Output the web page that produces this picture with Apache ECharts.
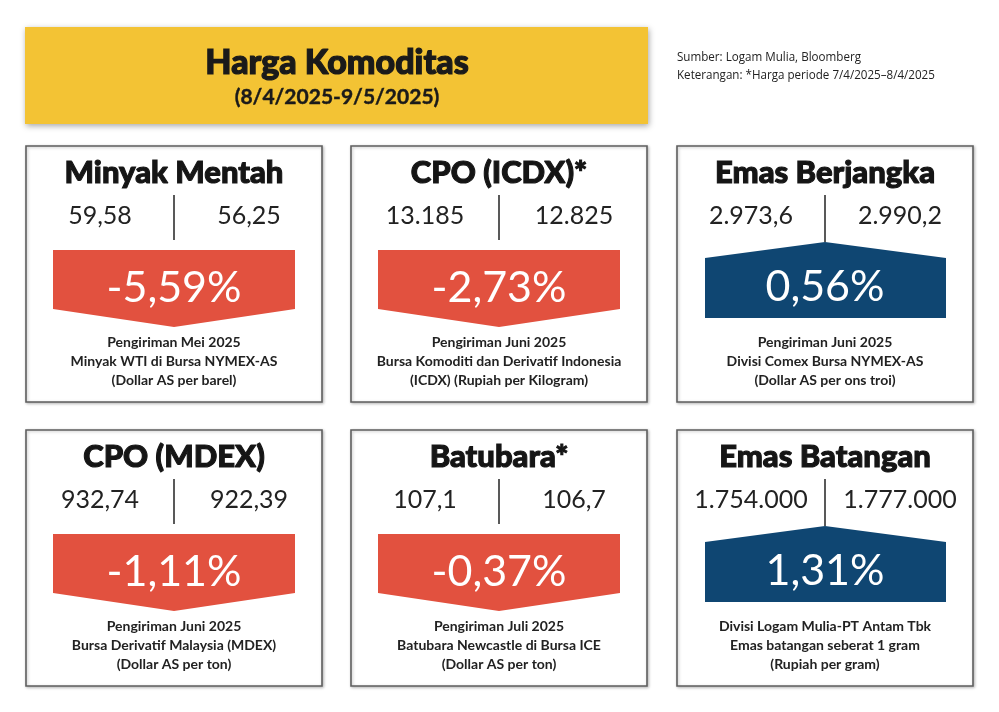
<!DOCTYPE html>
<html>
<head>
<meta charset="utf-8">
<script src="https://cdn.jsdelivr.net/npm/echarts@6/dist/echarts.min.js"></script>
<style>
  html, body { margin: 0; padding: 0; background: #fff; }
  #main { width: 999px; height: 712px; }
</style>
</head>
<body>
<div id="main"></div>
<script>
// data
var commodities = ['Minyak Mentah', 'CPO (ICDX)*', 'Emas Berjangka', 'CPO (MDEX)', 'Batubara*', 'Emas Batangan'];
var priceStart = ['59,58', '13.185', '2.973,6', '932,74', '107,1', '1.754.000'];
var priceEnd = ['56,25', '12.825', '2.990,2', '922,39', '106,7', '1.777.000'];
var changePct = [-5.59, -2.73, 0.56, -1.11, -0.37, 1.31];
var notes = [
    ['Pengiriman Mei 2025', 'Minyak WTI di Bursa NYMEX-AS', '(Dollar AS per barel)'],
    ['Pengiriman Juni 2025', 'Bursa Komoditi dan Derivatif Indonesia', '(ICDX) (Rupiah per Kilogram)'],
    ['Pengiriman Juni 2025', 'Divisi Comex Bursa NYMEX-AS', '(Dollar AS per ons troi)'],
    ['Pengiriman Juni 2025', 'Bursa Derivatif Malaysia (MDEX)', '(Dollar AS per ton)'],
    ['Pengiriman Juli 2025', 'Batubara Newcastle di Bursa ICE', '(Dollar AS per ton)'],
    ['Divisi Logam Mulia-PT Antam Tbk', 'Emas batangan seberat 1 gram', '(Rupiah per gram)']
];
var titleText = 'Harga Komoditas';
var periodText = '(8/4/2025-9/5/2025)';
var sourceLines = ['Sumber: Logam Mulia, Bloomberg', 'Keterangan: *Harga periode 7/4/2025\u20138/4/2025'];

var RED = '#e2513f', NAVY = '#0f4672', YELLOW = '#f3c334';
var HEAVY = 'Lato, "Noto Sans", sans-serif';

var myChart = echarts.init(document.getElementById('main'));

var colX = [26, 351, 677], rowY = [146, 430];
var W = 296, H = 256, cx = W / 2;

function fmtPct(v) {
    return v.toFixed(2).replace('.', ',') + '%';
}

var elements = [
    {
        type: 'rect',
        shape: { x: 25, y: 27, width: 623, height: 97 },
        style: { fill: YELLOW, shadowBlur: 6, shadowOffsetX: 1, shadowOffsetY: 2, shadowColor: 'rgba(0,0,0,0.35)' }
    },
    {
        type: 'text', x: 337, y: 63,
        style: { text: titleText, font: '900 34px ' + HEAVY, fill: '#1a1a1a', stroke: '#1a1a1a', lineWidth: 1.2, align: 'center', verticalAlign: 'middle' }
    },
    {
        type: 'text', x: 337, y: 97,
        style: { text: periodText, font: 'bold 21px ' + HEAVY, fill: '#1a1a1a', stroke: '#1a1a1a', lineWidth: 0.4, align: 'center', verticalAlign: 'middle' }
    }
];
sourceLines.forEach(function (s, i) {
    elements.push({
        type: 'text', x: 677, y: 57 + i * 18, scaleX: 0.86,
        style: { text: s, font: '13.5px "Open Sans", sans-serif', fill: '#222', align: 'left', verticalAlign: 'middle' }
    });
});

commodities.forEach(function (name, i) {
    var up = changePct[i] >= 0;
    var children = [
        {
            type: 'rect',
            shape: { x: 0, y: 0, width: W, height: H },
            style: { fill: '#fff', stroke: '#5f5f5f', lineWidth: 1.6, shadowBlur: 3, shadowOffsetX: 1, shadowOffsetY: 1, shadowColor: 'rgba(0,0,0,0.25)' }
        },
        {
            type: 'text', x: cx, y: 27,
            style: { text: name, font: '900 31px ' + HEAVY, fill: '#151515', stroke: '#151515', lineWidth: 1.1, align: 'center', verticalAlign: 'middle' }
        },
        {
            type: 'line',
            shape: { x1: cx, y1: 49, x2: cx, y2: up ? 96 : 94 },
            style: { stroke: '#222', lineWidth: 1.5 }
        },
        {
            type: 'text', x: 74, y: 70,
            style: { text: priceStart[i], font: '25px ' + HEAVY, fill: '#222', align: 'center', verticalAlign: 'middle' }
        },
        {
            type: 'text', x: 223, y: 70,
            style: { text: priceEnd[i], font: '25px ' + HEAVY, fill: '#222', align: 'center', verticalAlign: 'middle' }
        },
        {
            type: 'polygon',
            shape: {
                points: up
                    ? [[28, 112], [cx, 96], [269, 112], [269, 172], [28, 172]]
                    : [[27, 104], [269, 104], [269, 163], [cx, 181], [27, 163]]
            },
            style: { fill: up ? NAVY : RED }
        },
        {
            type: 'text', x: cx, y: up ? 141 : 142,
            style: { text: fmtPct(changePct[i]), font: '43px ' + HEAVY, fill: '#fff', align: 'center', verticalAlign: 'middle' }
        }
    ];
    notes[i].forEach(function (line, j) {
        children.push({
            type: 'text', x: cx, y: 196 + j * 19,
            style: { text: line, font: 'bold 14px ' + HEAVY, fill: '#222', align: 'center', verticalAlign: 'middle' }
        });
    });
    elements.push({
        type: 'group',
        x: colX[i % 3],
        y: rowY[Math.floor(i / 3)],
        children: children
    });
});

var option = {
    backgroundColor: '#fff',
    graphic: { elements: elements }
};

myChart.setOption(option);
</script>
</body>
</html>
